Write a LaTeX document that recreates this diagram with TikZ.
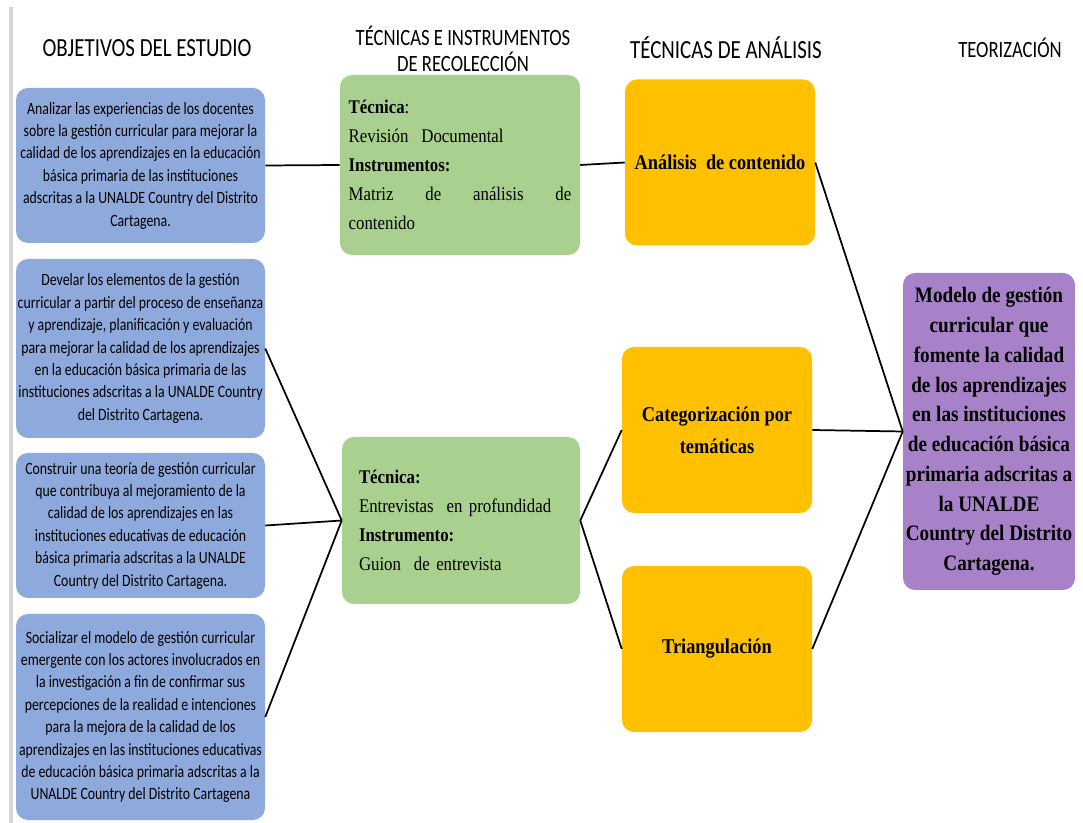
\documentclass[tikz,border=0pt]{standalone}
\usepackage{fontspec}
\setmainfont{Liberation Serif}[FakeStretch=0.87]
\newfontfamily\calib{Carlito}[FakeStretch=0.8]
\setlength\parindent{0pt}
\definecolor{bluebox}{RGB}{142,169,219}
\definecolor{greenbox}{RGB}{169,208,142}
\definecolor{orangebox}{RGB}{255,192,0}
\definecolor{purplebox}{RGB}{167,130,200}
\definecolor{sideline}{RGB}{215,215,215}
\begin{document}
\begin{tikzpicture}[x=0.75pt,y=-0.75pt,
  box/.style={rectangle, rounded corners=9pt, inner sep=0pt, text=black},
  obj/.style={box, fill=bluebox, minimum width=186.75pt, align=center,
    font=\calib\fontsize{12.95}{16.8}\selectfont},
  tec/.style={box, fill=greenbox, font=\fontsize{14.5}{21.8}\selectfont},
  ana/.style={box, fill=orangebox, minimum width=142.5pt, minimum height=124.5pt,
    align=center, font=\bfseries\fontsize{15.8}{24}\selectfont},
  teo/.style={box, fill=purplebox, minimum width=129pt, minimum height=237.75pt,
    align=center, font=\bfseries\fontsize{16.55}{22.3}\selectfont},
  head/.style={align=center, font=\calib\fontsize{19.6}{20}\selectfont},
  headsmall/.style={align=center, font=\calib\fontsize{17.5}{20}\selectfont},
  link/.style={line width=1.3pt, black}
]
\useasboundingbox (0,0) rectangle (1083,823);
\fill[white] (0,0) rectangle (1083,823);
\fill[sideline] (9,7) rectangle (13,823);

% headers
\node[head] (h1) at (147,48) {OBJETIVOS DEL ESTUDIO};
\node[headsmall] (h2) at (463,49) {TÉCNICAS E INSTRUMENTOS\\DE RECOLECCIÓN};
\node[head] (h3) at (726,48) {TÉCNICAS DE ANÁLISIS};
\node[headsmall] (h4) at (1010,48) {TEORIZACIÓN};

% objectives
\node[obj, minimum height=116.25pt] (b1) at (140.5,165.5)
 {Analizar las experiencias de los docentes\\sobre la gestión curricular para mejorar la\\calidad de los aprendizajes en la educación\\básica primaria de las instituciones\\adscritas a la UNALDE Country del Distrito\\Cartagena.};
\node[obj, minimum height=134.25pt] (b2) at (140.5,348.5)
 {Develar los elementos de la gestión\\curricular a partir del proceso de enseñanza\\y aprendizaje, planificación y evaluación\\para mejorar la calidad de los aprendizajes\\en la educación básica primaria de las\\instituciones adscritas a la UNALDE Country\\del Distrito Cartagena.};
\node[obj, minimum height=108.75pt] (b3) at (140.5,525.5)
 {Construir una teoría de gestión curricular\\que contribuya al mejoramiento de la\\calidad de los aprendizajes en las\\instituciones educativas de educación\\básica primaria adscritas a la UNALDE\\Country del Distrito Cartagena.};
\node[obj, minimum height=154.5pt] (b4) at (140.5,717)
 {Socializar el modelo de gestión curricular\\emergente con los actores involucrados en\\la investigación a fin de confirmar sus\\percepciones de la realidad e intenciones\\para la mejora de la calidad de los\\aprendizajes en las instituciones educativas\\de educación básica primaria adscritas a la\\UNALDE Country del Distrito Cartagena};

% techniques
\node[tec, minimum width=180pt, minimum height=135pt, text width=167pt] (g1) at (460,165)
 {\textbf{Técnica}:\\Revisión\ \ Documental\\\textbf{Instrumentos:}\\\makebox[167pt][l]{Matriz\hfill de\hfill análisis\hfill de}\\contenido};
\node[tec, minimum width=178.5pt, minimum height=125.25pt, text width=153pt] (g2) at (461,520.5)
 {\textbf{Técnica:}\\Entrevistas\ \ en profundidad\\\textbf{Instrumento:}\\Guion\ \ de entrevista};

% analysis
\node[ana] (o1) at (720,162.5) {Análisis\ \ de contenido};
\node[ana] (o2) at (717,430) {Categorización por\\temáticas};
\node[ana] (o3) at (717,649) {Triangulación};

% theory
\node[teo] (p) at (989,431.5)
 {Modelo de gestión\\curricular que\\fomente la calidad\\de los aprendizajes\\en las instituciones\\de educación básica\\primaria adscritas a\\la UNALDE\\Country del Distrito\\Cartagena.};

% connectors
\draw[link] (b1.east) -- (g1.west);
\draw[link] (g1.east) -- (o1.west);
\draw[link] (b2.east) -- (g2.west);
\draw[link] (b3.east) -- (g2.west);
\draw[link] (b4.east) -- (g2.west);
\draw[link] (g2.east) -- (o2.west);
\draw[link] (g2.east) -- (o3.west);
\draw[link] (o1.east) -- (p.west);
\draw[link] (o2.east) -- (p.west);
\draw[link] (o3.east) -- (p.west);
\end{tikzpicture}
\end{document}
